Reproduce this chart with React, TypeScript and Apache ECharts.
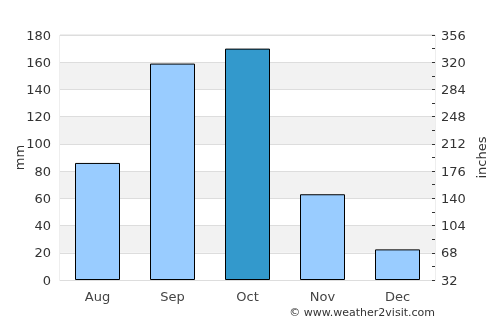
import React, { useEffect, useRef } from "react";
import * as echarts from "echarts";

const months = ["Aug", "Sep", "Oct", "Nov", "Dec"];
const rainfallMm = [86, 159, 170, 63, 22.5];
const highlightIndex = 2;
const rightOffset = 32;

export default function App() {
  const ref = useRef<HTMLDivElement>(null);
  useEffect(() => {
    if (!ref.current) return;
    const chart = echarts.init(ref.current, null, { renderer: "svg" });
    const font = "DejaVu Sans";
    chart.setOption({
      animation: false,
      textStyle: { fontFamily: font },
      grid: {
        left: 60,
        right: 65,
        top: 35,
        bottom: 45,
        containLabel: false,
        outerBoundsMode: "none",
        show: true,
        borderColor: "#dddddd",
        borderWidth: 1,
      },
      xAxis: {
        type: "category",
        data: months,
        axisLine: { show: true, lineStyle: { color: "#dddddd" } },
        axisTick: { show: false },
        axisLabel: { color: "#444", fontSize: 13, margin: 10, fontFamily: font },
      },
      yAxis: [
        {
          type: "value",
          min: 0,
          max: 180,
          interval: 20,
          name: "mm",
          nameLocation: "middle",
          nameGap: 34,
          nameMoveOverlap: false,
          nameTextStyle: { color: "#333", fontSize: 13, fontFamily: font },
          axisLine: { show: false },
          axisTick: { show: false },
          axisLabel: { color: "#333", fontSize: 13, margin: 9, fontFamily: font },
          splitLine: { show: true, lineStyle: { color: "#dddddd" } },
          splitArea: { show: true, areaStyle: { color: ["#ffffff", "#f2f2f2"] } },
        },
        {
          type: "value",
          position: "right",
          min: 0,
          max: 324,
          interval: 18,
          name: "inches",
          nameLocation: "middle",
          nameGap: 40,
          nameMoveOverlap: false,
          nameTextStyle: { color: "#333", fontSize: 13, fontFamily: font },
          axisLine: { show: false },
          axisTick: { show: true, inside: true, length: 3, lineStyle: { color: "#333" } },
          axisLabel: {
            color: "#333",
            fontSize: 13,
            margin: 6,
            fontFamily: font,
            formatter: (v: number) => (Math.round(v / 18) % 2 === 0 ? String(v + rightOffset) : ""),
          },
          splitLine: { show: false },
        },
      ],
      series: [
        {
          type: "bar",
          data: rainfallMm.map((v, i) => ({
            value: v,
            itemStyle: { color: i === highlightIndex ? "#3399cc" : "#99ccff" },
          })),
          barWidth: "60%",
          itemStyle: { borderColor: "#000", borderWidth: 1 },
        },
      ],
      graphic: [
        {
          type: "text",
          right: 65,
          top: 307,
          style: { text: "© www.weather2visit.com", fill: "#333", fontSize: 11, fontFamily: font },
        },
      ],
    });
    return () => chart.dispose();
  }, []);
  return <div ref={ref} style={{ position: "fixed", left: 0, top: 0, width: 500, height: 325 }} />;
}
